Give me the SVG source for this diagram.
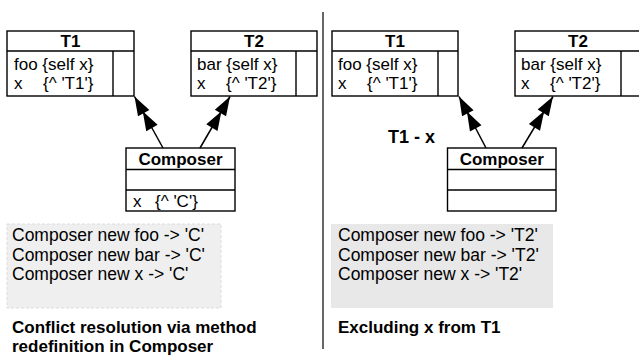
<svg xmlns="http://www.w3.org/2000/svg" width="639" height="364" viewBox="0 0 639 364">
<style>
.box{fill:#fff;stroke:#000;stroke-width:1.4}
.ln{stroke:#000;stroke-width:1.4;fill:none}
.t{font-family:"Liberation Sans",Arial,sans-serif;font-size:17px;fill:#000}
.b{font-family:"Liberation Sans",Arial,sans-serif;font-size:17px;font-weight:bold;fill:#000}
.c{text-anchor:middle}
.arr{stroke:#000;stroke-width:1.5;fill:none;marker-end:url(#dbl)}
</style>
<defs>
<marker id="dbl" markerUnits="userSpaceOnUse" viewBox="-38 -8 39 16" markerWidth="39" markerHeight="16" refX="0" refY="0" orient="auto">
<path d="M0,0 L-19,-6.5 L-19,6.5 Z M-17,0 L-36,-6.5 L-36,6.5 Z" fill="#000"/>
</marker>
</defs>
<rect width="639" height="364" fill="#fff"/>

<!-- Left panel -->
<g id="L_T1">
<rect class="box" x="7" y="31" width="127" height="65"/>
<line class="ln" x1="7" y1="51" x2="134" y2="51"/>
<line class="ln" x1="113" y1="51" x2="113" y2="96"/>
<text class="b c" x="70.5" y="47">T1</text>
<text class="t" x="14" y="70">foo {self x}</text>
<text class="t" x="14" y="89">x</text>
<text class="t" x="43" y="89">{^ 'T1'}</text>
</g>
<g id="L_T2">
<rect class="box" x="191" y="31" width="126" height="65"/>
<line class="ln" x1="191" y1="51" x2="317" y2="51"/>
<line class="ln" x1="296" y1="51" x2="296" y2="96"/>
<text class="b c" x="254" y="47">T2</text>
<text class="t" x="197" y="70">bar {self x}</text>
<text class="t" x="197" y="89">x</text>
<text class="t" x="226" y="89">{^ 'T2'}</text>
</g>
<g id="L_Composer">
<rect class="box" x="126" y="148" width="109" height="63"/>
<line class="ln" x1="126" y1="169.5" x2="235" y2="169.5"/>
<line class="ln" x1="126" y1="190" x2="235" y2="190"/>
<text class="b c" x="180.5" y="165">Composer</text>
<text class="t" x="133" y="207">x</text>
<text class="t" x="155" y="207">{^ 'C'}</text>
</g>

<!-- Right panel -->
<g id="R_T1">
<rect class="box" x="332" y="31" width="126" height="65"/>
<line class="ln" x1="332" y1="51" x2="458" y2="51"/>
<line class="ln" x1="438" y1="51" x2="438" y2="96"/>
<text class="b c" x="395" y="47">T1</text>
<text class="t" x="338" y="70">foo {self x}</text>
<text class="t" x="338" y="89">x</text>
<text class="t" x="367" y="89">{^ 'T1'}</text>
</g>
<g id="R_T2">
<rect class="box" x="515" y="31" width="127" height="65"/>
<line class="ln" x1="515" y1="51" x2="642" y2="51"/>
<line class="ln" x1="621" y1="51" x2="621" y2="96"/>
<text class="b c" x="578" y="47">T2</text>
<text class="t" x="521" y="70">bar {self x}</text>
<text class="t" x="521" y="89">x</text>
<text class="t" x="550" y="89">{^ 'T2'}</text>
</g>
<g id="R_Composer">
<rect class="box" x="447.5" y="148" width="108.5" height="63"/>
<line class="ln" x1="447.5" y1="169.5" x2="556" y2="169.5"/>
<line class="ln" x1="447.5" y1="190" x2="556" y2="190"/>
<text class="b c" x="501.75" y="165">Composer</text>
</g>

<g id="connectors">
<line class="arr" x1="163" y1="148" x2="134.5" y2="96.5"/>
<line class="arr" x1="200" y1="148" x2="230" y2="96.5"/>
<line class="arr" x1="486" y1="148" x2="459" y2="96.5"/>
<line class="arr" x1="522" y1="148" x2="553" y2="96.5"/>
</g>

<text class="b" x="388" y="142.5" style="font-size:18px">T1 - x</text>

<line x1="323" y1="12" x2="323" y2="349" stroke="#000" stroke-width="1.2"/>

<g id="L_output">
<rect x="7" y="224" width="214" height="84" fill="#efefef" stroke="#dcdcdc" stroke-width="1" stroke-dasharray="3,2"/>
<text class="t" x="12" y="241" style="font-size:17.5px">Composer new foo -&gt; 'C'</text>
<text class="t" x="12" y="260.5" style="font-size:17.5px">Composer new bar -&gt; 'C'</text>
<text class="t" x="12" y="280" style="font-size:17.5px">Composer new x -&gt; 'C'</text>
</g>
<g id="R_output">
<rect x="331" y="224" width="222" height="84" fill="#e8e8e8"/>
<text class="t" x="338" y="241" style="font-size:17.5px">Composer new foo -&gt; 'T2'</text>
<text class="t" x="338" y="260.5" style="font-size:17.5px">Composer new bar -&gt; 'T2'</text>
<text class="t" x="338" y="280" style="font-size:17.5px">Composer new x -&gt; 'T2'</text>
</g>

<text class="b" x="12" y="333">Conflict resolution via method</text>
<text class="b" x="12" y="352">redefinition in Composer</text>
<text class="b" x="338" y="333">Excluding x from T1</text>
</svg>
